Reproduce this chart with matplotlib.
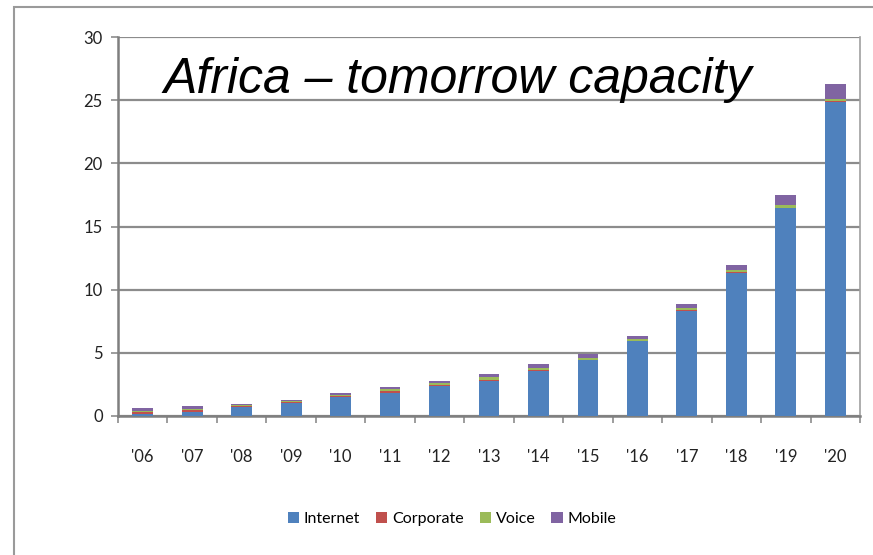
import matplotlib
matplotlib.use("Agg")
import matplotlib.pyplot as plt
import numpy as np
from matplotlib.patches import Rectangle

years = ["'06", "'07", "'08", "'09", "'10", "'11", "'12", "'13",
         "'14", "'15", "'16", "'17", "'18", "'19", "'20"]
internet = [0.15, 0.35, 0.70, 1.00, 1.50, 1.85, 2.35, 2.80,
            3.60, 4.40, 5.90, 8.33, 11.33, 16.45, 24.85]
corporate = [0.20, 0.15, 0.10, 0.08, 0.08, 0.10, 0.10, 0.08,
             0.05, 0.05, 0.05, 0.05, 0.05, 0.05, 0.05]
voice = [0.05, 0.07, 0.05, 0.07, 0.07, 0.15, 0.15, 0.17,
         0.18, 0.15, 0.13, 0.15, 0.15, 0.20, 0.20]
mobile = [0.20, 0.25, 0.12, 0.15, 0.15, 0.20, 0.20, 0.25,
          0.25, 0.28, 0.25, 0.35, 0.45, 0.80, 1.15]

series = [("Internet", internet, "#4F81BD"),
          ("Corporate", corporate, "#C0504D"),
          ("Voice", voice, "#9BBB59"),
          ("Mobile", mobile, "#8064A2")]

W, H = 873, 555
fig = plt.figure(figsize=(W / 100, H / 100), dpi=100)

# outer chart border
fig.patches.append(Rectangle((14 / W, -0.01), 1.0, 1 - 7 / H + 0.01,
                             transform=fig.transFigure, fill=False,
                             edgecolor="#9a9a9a", linewidth=1.5))

ax = fig.add_axes([118 / W, 1 - 416 / H, (860 - 118) / W, (416 - 37) / H])
x = np.arange(len(years))
bottom = np.zeros(len(years))
for name, vals, col in series:
    ax.bar(x, vals, bottom=bottom, width=0.42, color=col, label=name,
           zorder=3)
    bottom += np.array(vals)

ax.set_ylim(0, 30)
ax.set_xlim(-0.5, len(years) - 0.5)
ax.set_yticks(range(0, 31, 5))
ax.yaxis.grid(True, color="#8c8c8c", linewidth=1.6, zorder=0)
ax.set_xticks(x)
ax.set_xticklabels(years)
ax.set_xticks(np.arange(-0.5, len(years)), minor=True)
ax.tick_params(axis="x", which="major", length=0, pad=24)
ax.tick_params(axis="x", which="minor", length=5, color="#8c8c8c", width=1.2)
ax.tick_params(axis="y", length=5, color="#8c8c8c", width=1.2, pad=6)
for lab in ax.get_xticklabels() + ax.get_yticklabels():
    lab.set_fontfamily("Lato")
    lab.set_fontsize(12)
    lab.set_color("#222222")
ax.spines["top"].set_visible(False)
ax.spines["left"].set_color("#7f7f7f")
ax.spines["left"].set_linewidth(1.8)
ax.spines["bottom"].set_color("#7f7f7f")
ax.spines["bottom"].set_linewidth(1.8)
ax.spines["right"].set_color("#a0a0a0")
ax.spines["right"].set_linewidth(1.2)

fig.text(163 / W, 1 - 80 / H, "Africa \u2013 tomorrow capacity",
         fontsize=36, fontstyle="italic", family="Liberation Sans",
         va="center", ha="left")

leg = fig.legend(loc="center", bbox_to_anchor=(452 / W, 1 - 519 / H),
                 ncol=4, frameon=False, handlelength=0.7, handleheight=0.7,
                 handletextpad=0.3, columnspacing=1.0,
                 prop={"family": "Lato", "size": 11.5})

fig.savefig("out.png", dpi=100)
